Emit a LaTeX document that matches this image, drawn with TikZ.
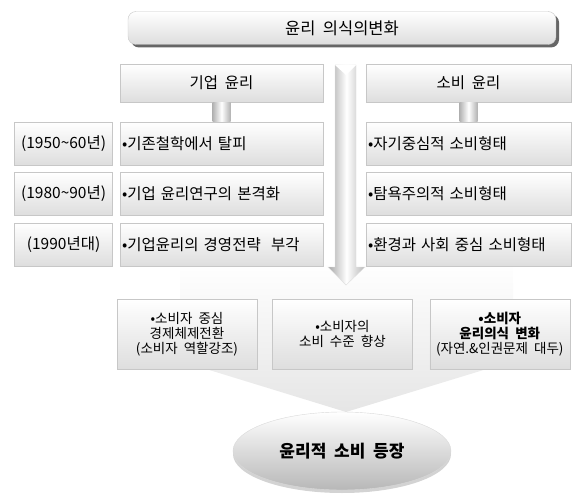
\documentclass[tikz,border=0pt]{standalone}
\usepackage{fontspec}
\setmainfont{Noto Sans CJK KR}[WordSpace=2]
\usetikzlibrary{positioning, shapes.geometric, shadows}

\begin{document}
\begin{tikzpicture}[
    x=1pt, y=-1pt,
    node distance=7pt and 7pt,
    box/.style={draw=black!22, top color=white, bottom color=black!13, inner sep=2pt, font=\fontsize{15.5}{18}\selectfont},
    head box/.style={box, minimum height=38pt, align=center},
    row box/.style={box, minimum height=43pt, text width=199pt, align=left},
    year box/.style={box, minimum height=43pt, minimum width=98pt, align=center, font=\fontsize{15.5}{18}\selectfont},
    result box/.style={box, minimum width=140pt, minimum height=70pt, align=center, font=\fontsize{13.5}{15}\selectfont},
    stub/.style={left color=black!30, right color=black!30, middle color=white},
    flow/.style={left color=black!35, right color=black!28, middle color=white, draw=black!12}
]
    \useasboundingbox (0,0) rectangle (586,497);

    % --- BACKGROUND CHEVRON ---
    \shade[top color=white, bottom color=black!10] (180,262) -- (513,262) -- (513,361) -- (346,412) -- (180,361) -- cycle;

    % --- TITLE ---
    \node[box, rounded corners=8pt, minimum width=428pt, minimum height=33pt, font=\fontsize{16.5}{18}\selectfont,
          drop shadow={shadow xshift=3pt, shadow yshift=-3pt, fill=black!60, opacity=1}] (title) at (342,28) {윤리 의식의변화};

    % --- DOWN ARROW (between the two columns) ---
    \shade[flow] (335,65) -- (356,65) -- (356,267) -- (365,267) -- (346,285) -- (328,267) -- (335,267) -- cycle;
    \fill[white] (335,65) -- (356,65) -- (346,75) -- cycle;

    % --- HEADERS ---
    \node[head box, minimum width=203pt] (bizhead) at (221.5,83) {기업 윤리};
    \node[head box, minimum width=205pt] (conhead) at (468.5,83) {소비 윤리};

    % --- BUSINESS ETHICS ROWS ---
    \node[row box] (biz1) at (221.5,143.5) {•기존철학에서 탈피};
    \node[row box, below=of biz1] (biz2) {•기업 윤리연구의 본격화};
    \node[row box, below=of biz2] (biz3) {•기업윤리의 경영전략 \ 부각};

    % years
    \node[year box, left=of biz1] (year1) {(1950\textasciitilde 60년)};
    \node[year box, left=of biz2] (year2) {(1980\textasciitilde 90년)};
    \node[year box, left=of biz3] (year3) {(1990년대)};

    % --- CONSUMER ETHICS ROWS ---
    \node[row box, text width=201pt] (con1) at (468.5,143.5) {•자기중심적 소비형태};
    \node[row box, text width=201pt, below=of con1] (con2) {•탐욕주의적 소비형태};
    \node[row box, text width=201pt, below=of con2] (con3) {•환경과 사회 중심 소비형태};

    % --- STUBS ---
    \shade[stub] ([xshift=-9pt]bizhead.south) rectangle ([xshift=9pt]biz1.north);
    \shade[stub] ([xshift=-9pt]conhead.south) rectangle ([xshift=9pt]con1.north);

    % --- RESULTS ---
    \node[result box] (shift) at (187,334) {•소비자 중심\\경제체제전환\\(소비자 역할강조)};
    \node[result box, right=15pt of shift] (level) {•소비자의\\소비 수준 향상};
    \node[result box, right=17pt of level] (aware) {\textbf{•소비자}\\\textbf{윤리의식 변화}\\(자연.\&인권문제 대두)};

    % --- OUTCOME ---
    \node[ellipse, draw=black!15, top color=white, bottom color=black!28, minimum width=218pt, minimum height=78pt,
          font=\bfseries\fontsize{17}{20}\selectfont,
          drop shadow={shadow xshift=0pt, shadow yshift=-3pt, opacity=0.35}] (emerge) at (342,451) {윤리적 소비 등장};

\end{tikzpicture}
\end{document}
